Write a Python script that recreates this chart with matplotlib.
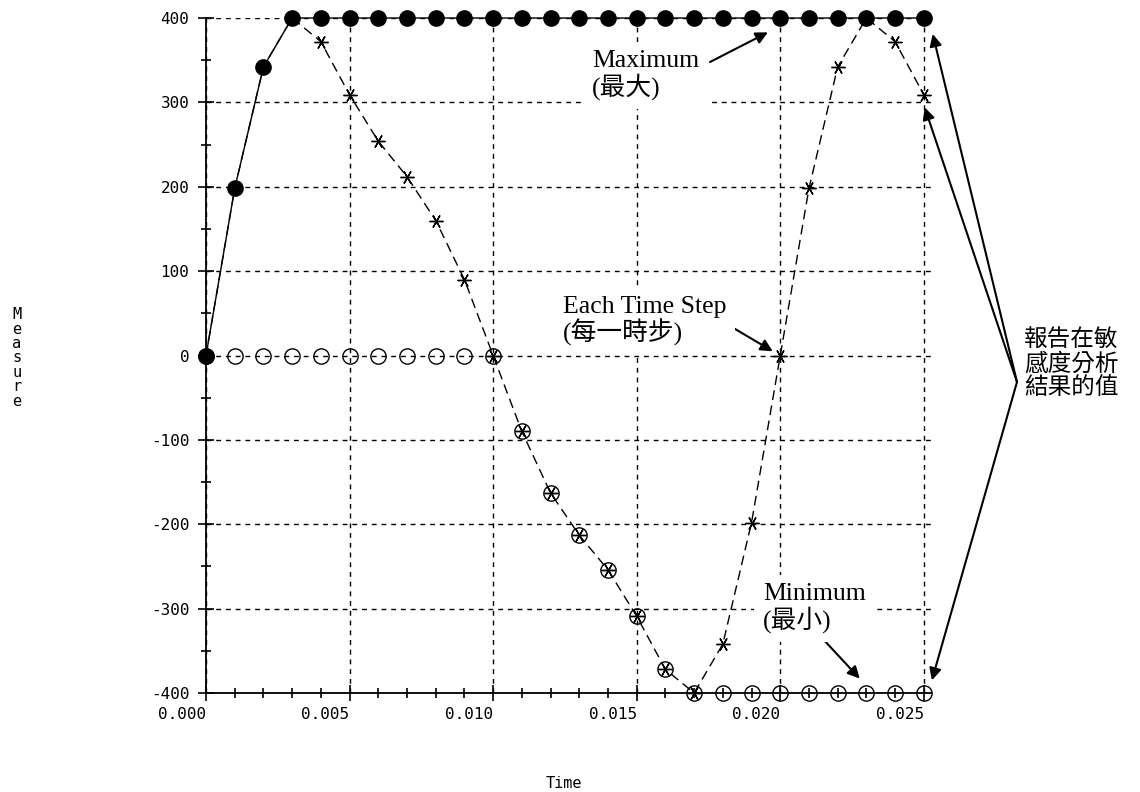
import matplotlib
matplotlib.use('Agg')
import matplotlib.pyplot as plt
from matplotlib.ticker import MultipleLocator, FormatStrFormatter

plt.rcParams['axes.unicode_minus'] = False

# time steps and the three curves
time = [0.000, 0.001, 0.002, 0.003, 0.004, 0.005, 0.006, 0.007, 0.008, 0.009,
        0.010, 0.011, 0.012, 0.013, 0.014, 0.015, 0.016, 0.017, 0.018, 0.019,
        0.020, 0.021, 0.022, 0.023, 0.024, 0.025]
current = [0, 198, 342, 400, 372, 309, 254, 212, 160, 90,
           0, -90, -163, -213, -254, -309, -372, -400, -342, -198,
           0, 198, 342, 400, 372, 309]
maximum = [0, 198, 342, 400, 400, 400, 400, 400, 400, 400,
           400, 400, 400, 400, 400, 400, 400, 400, 400, 400,
           400, 400, 400, 400, 400, 400]
minimum = [0, 0, 0, 0, 0, 0, 0, 0, 0, 0,
           0, -90, -163, -213, -254, -309, -372, -400, -400, -400,
           -400, -400, -400, -400, -400, -400]

serif_cjk = ['Liberation Serif', 'Noto Sans CJK TC']
mono = 'DejaVu Sans Mono'

fig = plt.figure(figsize=(11.4, 7.92), dpi=100)
ax = fig.add_axes([206/1140, 99/792, 725/1140, 675/792])

ax.plot(time, minimum, linestyle='none', marker='o', markersize=11,
        markerfacecolor='none', markeredgecolor='black', markeredgewidth=1,
        clip_on=False, zorder=3)
ax.plot(time, current, color='black', lw=1, linestyle=(0, (7, 4)),
        marker=(6, 2, 90), markersize=10, markeredgewidth=1,
        clip_on=False, zorder=4)
ax.plot(time, maximum, color='black', lw=1, marker='o', markersize=11,
        clip_on=False, zorder=5)

ax.set_xlim(0, 0.02525)
ax.set_ylim(-400, 400)
ax.xaxis.set_major_locator(MultipleLocator(0.005))
ax.xaxis.set_minor_locator(MultipleLocator(0.001))
ax.xaxis.set_major_formatter(FormatStrFormatter('%.3f'))
ax.yaxis.set_major_locator(MultipleLocator(100))
ax.yaxis.set_minor_locator(MultipleLocator(50))

for s in ['top', 'right']:
    ax.spines[s].set_visible(False)
for s in ['left', 'bottom']:
    ax.spines[s].set_linewidth(1.3)

ax.tick_params(which='major', direction='inout', length=12, width=1.2,
               labelsize=11.5, pad=4)
ax.tick_params(which='minor', direction='inout', length=7, width=1.2)
ax.tick_params(axis='y', pad=6)
for lab in ax.get_xticklabels():
    lab.set_fontfamily(mono)
    lab.set_horizontalalignment('right')
for lab in ax.get_yticklabels():
    lab.set_fontfamily(mono)

ax.grid(which='major', color='black', lw=1, linestyle=(0, (3.5, 3.5)))
ax.set_axisbelow(True)

fig.text(564/1140, 1 - 783/792, 'Time', ha='center', va='center',
         fontfamily=mono, fontsize=11)
fig.text(17/1140, 1 - 358/792, '\n'.join('Measure'), ha='center',
         va='center', fontfamily=mono, fontsize=11, linespacing=0.95)

box = dict(boxstyle='square,pad=0.35', facecolor='white', edgecolor='none')
fig.text(592/1140, 1 - 75/792, 'Maximum\n(最大)', ha='left', va='center',
         fontfamily=serif_cjk, fontsize=18.5, linespacing=1.05, bbox=box,
         zorder=6)
fig.text(563/1140, 1 - 321/792, 'Each Time Step\n(每一時步)', ha='left',
         va='center', fontfamily=serif_cjk, fontsize=18.5, linespacing=1.05,
         bbox=box, zorder=6)
fig.text(763/1140, 1 - 608/792, 'Minimum\n(最小)', ha='left', va='center',
         fontfamily=serif_cjk, fontsize=18.5, linespacing=1.05, bbox=box,
         zorder=6)
fig.text(1024/1140, 1 - 364/792, '報告在敏\n感度分析\n結果的值', ha='left',
         va='center', fontfamily=['Noto Sans CJK TC', 'DejaVu Sans'],
         fontsize=17, linespacing=1.05)

arrow = dict(arrowstyle='-|>', color='black', lw=1.5, mutation_scale=18,
             shrinkA=0, shrinkB=0)
ax.annotate('', xy=(0.01957, 383), xycoords='data',
            xytext=(710, 730), textcoords='figure pixels', arrowprops=arrow)
ax.annotate('', xy=(0.01974, 5), xycoords='data',
            xytext=(725, 469), textcoords='figure pixels', arrowprops=arrow)
ax.annotate('', xy=(0.02277, -383), xycoords='data',
            xytext=(822, 154), textcoords='figure pixels', arrowprops=arrow)

# bracket of arrows to the final values
for tx, ty in [(0.02531, 381), (0.02503, 294), (0.02528, -385)]:
    ax.annotate('', xy=(tx, ty), xycoords='data',
                xytext=(1017, 410), textcoords='figure pixels',
                arrowprops=arrow, annotation_clip=False)

fig.savefig('out.png', dpi=100)
